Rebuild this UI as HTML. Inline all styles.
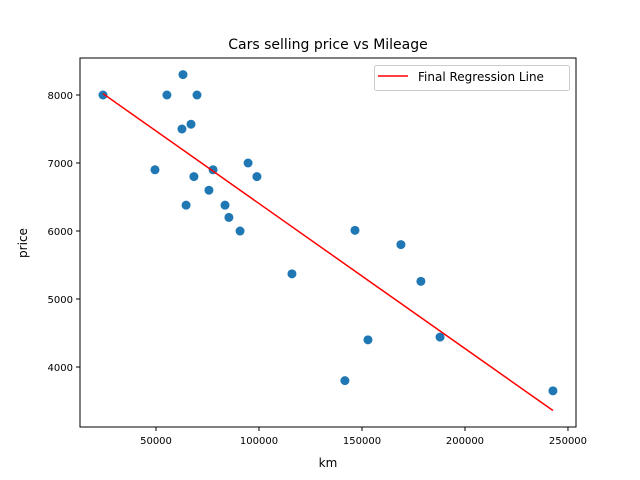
<!DOCTYPE html>
<html><head><meta charset="utf-8"><style>
body{margin:0;background:#fff}
svg{display:block;font-family:"DejaVu Sans","Liberation Sans",sans-serif}
</style></head><body>
<svg id="chart" width="640" height="480" viewBox="0 0 640 480">
<rect x="0" y="0" width="640" height="480" fill="#fff"/>
<text x="328" y="49" font-size="14" text-anchor="middle">Cars selling price vs Mileage</text>
<text x="328" y="467" font-size="12" text-anchor="middle">km</text>
<text x="27" y="243" font-size="12" text-anchor="middle" transform="rotate(-90 27 243)">price</text>
<g id="marks"></g>
<rect x="80" y="58" width="496" height="369" fill="none" stroke="#000" stroke-width="1"/>
<g>
<rect x="374.5" y="65.5" width="195" height="25" rx="2" fill="#fff" fill-opacity="0.8" stroke="#ccc"/>
<line x1="378" y1="76" x2="408" y2="76" stroke="red" stroke-width="1.5"/>
<text x="418" y="81" font-size="12">Final Regression Line</text>
</g>
</svg>
<script>
const kmValues=[24270,55300,63100,69900,62600,67000,49500,77700,68400,94700,99000,75700,64600,83500,85400,90800,116000,146600,168900,178600,152900,141700,187900,242700];
const priceValues=[8000,8000,8300,8000,7500,7570,6900,6900,6800,7000,6800,6600,6380,6380,6200,6000,5370,6010,5800,5260,4400,3800,4440,3650];
const lineKm=[24270,242700];
const linePrice=[8020,3360];
const xTicks=[50000,100000,150000,200000,250000];
const yTicks=[4000,5000,6000,7000,8000];
const xMin=13100,xMax=253900,yMin=3118,yMax=8544;
const L=80,R=576,T=58,B=427;
const sx=v=>L+(v-xMin)/(xMax-xMin)*(R-L);
const sy=v=>B-(v-yMin)/(yMax-yMin)*(B-T);
const NS="http://www.w3.org/2000/svg";
const g=document.getElementById('marks');
function mk(tag,attrs){const e=document.createElementNS(NS,tag);for(const k in attrs)e.setAttribute(k,attrs[k]);g.appendChild(e);return e;}
xTicks.forEach(t=>{
 const x=sx(t);
 const tk=mk('line',{x1:x,y1:B,x2:x,y2:B+4,stroke:'#000'});
 
 
 const lb=mk('text',{x:x,y:B+17,'font-size':10,'text-anchor':'middle'});
 lb.textContent=t;
 
 
});
yTicks.forEach(t=>{
 const y=sy(t);
 const tk=mk('line',{x1:L-4,y1:y,x2:L,y2:y,stroke:'#000'});
 
 
 const lb=mk('text',{x:L-7,y:y+4,'font-size':10,'text-anchor':'end'});
 lb.textContent=t;
 
 
});
kmValues.forEach((v,i)=>{
 const c=mk('circle',{cx:sx(v),cy:sy(priceValues[i]),r:4.5,fill:'#1f77b4'});
 
 
});
const ln=mk('line',{x1:sx(lineKm[0]),y1:sy(linePrice[0]),x2:sx(lineKm[1]),y2:sy(linePrice[1]),stroke:'red','stroke-width':1.5});


</script>
</body></html>
